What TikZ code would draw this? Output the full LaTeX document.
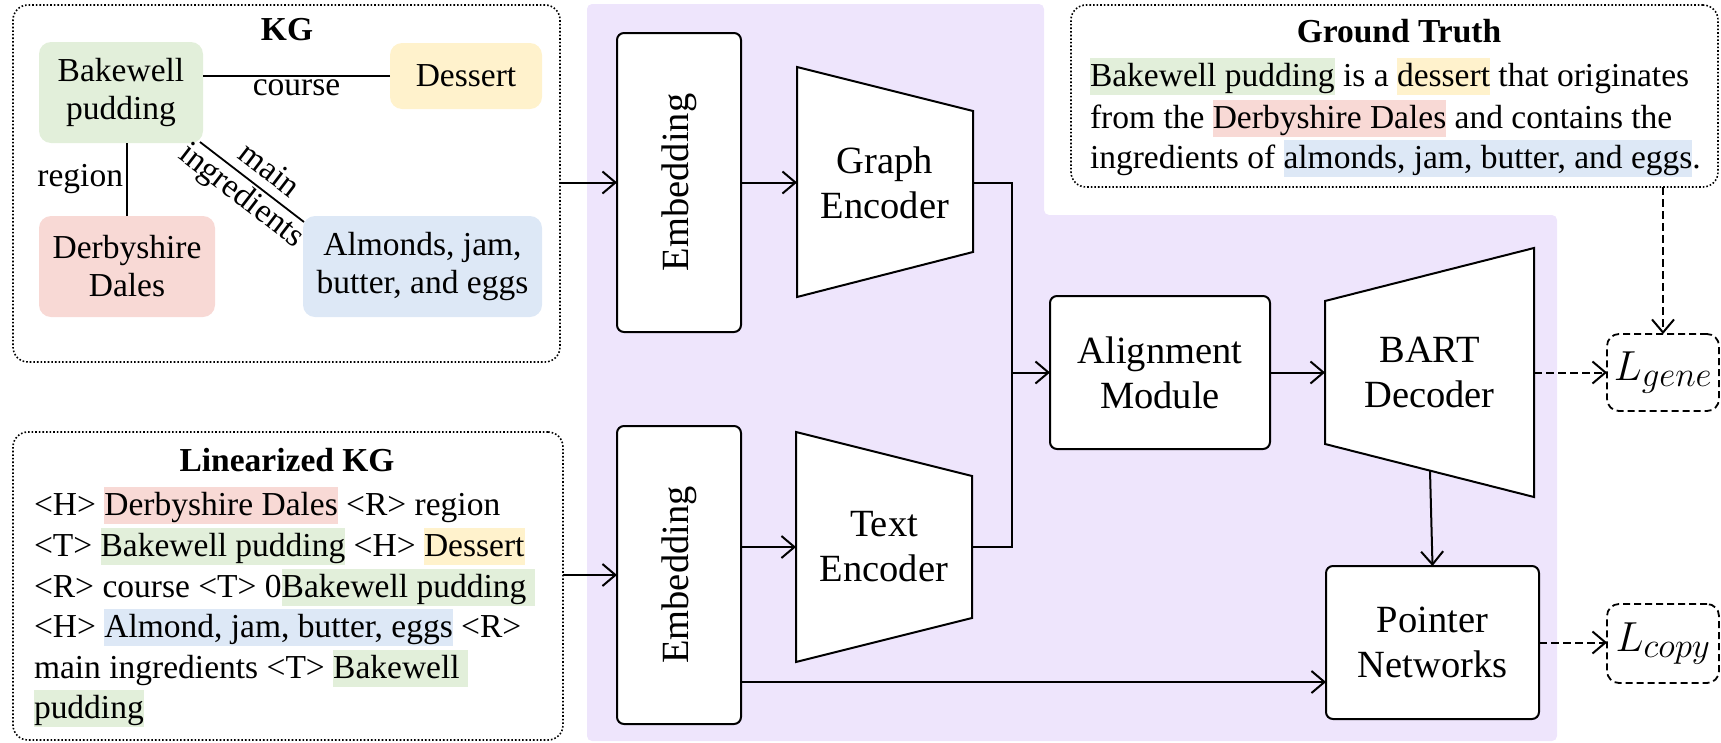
\RequirePackage{fix-cm}
\documentclass[tikz,border=0pt]{standalone}
\usepackage{fontspec}
\setmainfont{Liberation Serif}
\usetikzlibrary{arrows.meta,calc}
\DeclareMathSizes{42}{42}{35}{26}
\definecolor{hlgreen}{HTML}{E2EFDA}
\definecolor{hlyellow}{HTML}{FFF2CC}
\definecolor{hlred}{HTML}{F8D9D5}
\definecolor{hlblue}{HTML}{DDE8F6}
\definecolor{bgpurple}{HTML}{EEE5FC}
\newcommand{\hlt}[2]{{\setlength{\fboxsep}{0pt}\colorbox{#1}{\rule[-9pt]{0pt}{37pt}#2}}}
\newcommand{\bodyfont}{\fontsize{33.5}{38}\selectfont}
\newcommand{\blockfont}{\fontsize{38.5}{45}\selectfont}
\begin{document}
\begin{tikzpicture}[x=1pt,y=-1pt,
  every node/.style={inner sep=0pt, outer sep=0pt, font=\bodyfont},
  dotbox/.style={draw, dotted, line width=1.6pt, rounded corners=15pt},
  kgnode/.style={rounded corners=12pt, align=center},
  titletext/.style={font=\bfseries\bodyfont},
  line/.style={line width=2pt},
  edge/.style={line width=1.8pt},
  block/.style={draw, line width=2pt, rounded corners=7pt, fill=white, align=center, font=\blockfont},
  blocklabel/.style={align=center, font=\blockfont},
  trap/.style={draw, line width=2pt, fill=white, line join=miter},
  lossbox/.style={draw, line width=1.8pt, dash pattern=on 7pt off 4pt, rounded corners=12pt, font=\fontsize{42}{48}\selectfont},
  conn/.style={line width=2pt, -{Straight Barb[length=13pt,width=22pt,line width=2pt]}},
  dconn/.style={conn, dash pattern=on 8pt off 4pt}
]
\useasboundingbox (0,0) rectangle (1721,742);

% purple background
\fill[bgpurple, rounded corners=5pt] (587,4) -- (1044,4) -- (1044,215) -- (1557,215) -- (1557,741) -- (587,741) -- cycle;

% KG box
\node[dotbox, minimum width=547, minimum height=357] (kg) at (286.5,183.5) {};
\node[titletext] (kgtitle) at (287,30) {KG};
\node[kgnode, fill=hlgreen, minimum width=164, minimum height=101] (bp) at (121,92.5) {Bakewell\\pudding};
\node[kgnode, fill=hlyellow, minimum width=152, minimum height=66] (ds) at (466,76) {Dessert};
\node[kgnode, fill=hlred, minimum width=176, minimum height=101] (dd) at (127,266.5) {Derbyshire\\Dales};
\node[kgnode, fill=hlblue, minimum width=239, minimum height=101] (al) at (422.5,266.5) {Almonds, jam,\\butter, and eggs};
\draw[edge] (ds.west) -- (ds.west -| bp.east) node[midway, below=4pt] (lcourse) {course};
\draw[edge] (dd.north) -- (dd.north |- bp.south) node[midway, left=4pt] (lregion) {region};
\draw[edge] ([xshift=-3pt,yshift=1pt]bp.south east) -- ([xshift=1pt,yshift=-6pt]al.north west)
  node[pos=0.55, above=10pt, sloped] (lmain) {main}
  node[pos=0.5, below=3pt, sloped] (lingr) {ingredients};

% Linearized KG box
\node[dotbox, minimum width=550, minimum height=308] (lin) at (288,586) {};
\node[titletext] (lintitle) at (287,460) {Linearized KG};
\node[anchor=base west] (l1) at (34,515) {<H> \hlt{hlred}{Derbyshire Dales} <R> region};
\node[anchor=base west] (l2) at (34,556) {<T> \hlt{hlgreen}{Bakewell pudding} <H> \hlt{hlyellow}{Dessert}};
\node[anchor=base west] (l3) at (34,597) {<R> course <T> 0\hlt{hlgreen}{Bakewell pudding\ }};
\node[anchor=base west] (l4) at (34,637) {<H> \hlt{hlblue}{Almond, jam, butter, eggs} <R>};
\node[anchor=base west] (l5) at (34,678) {main ingredients <T> \hlt{hlgreen}{Bakewell\ }};
\node[anchor=base west] (l6) at (34,718) {\hlt{hlgreen}{pudding}};

% Ground truth box
\node[dotbox, minimum width=647, minimum height=182] (gt) at (1394.5,96) {};
\node[titletext] (gttitle) at (1399,31) {Ground Truth};
\node[anchor=base west] (g1) at (1090,86) {\hlt{hlgreen}{Bakewell pudding} is a \hlt{hlyellow}{dessert} that originates};
\node[anchor=base west] (g2) at (1090,128) {from the \hlt{hlred}{Derbyshire Dales} and contains the};
\node[anchor=base west] (g3) at (1090,168) {ingredients of \hlt{hlblue}{almonds, jam, butter, and eggs}.};

% Embeddings
\node[block, minimum width=124, minimum height=299] (e1) at (679,182.5) {\rotatebox{90}{Embedding}};
\node[block, minimum width=124, minimum height=298] (e2) at (679,575) {\rotatebox{90}{Embedding}};

% Encoders
\draw[trap] (797,67) -- (973,111) -- (973,252) -- (797,297) -- cycle;
\node[blocklabel, minimum width=176, minimum height=230] (ge) at (885,182.5) {Graph\\Encoder};
\draw[trap] (796,432) -- (972,476) -- (972,618) -- (796,662) -- cycle;
\node[blocklabel, minimum width=176, minimum height=230] (te) at (884,547) {Text\\Encoder};

% Alignment, BART, Pointer
\node[block, minimum width=220, minimum height=153] (am) at (1160,372.5) {Alignment\\Module};
\draw[trap] (1325,301) -- (1534,248) -- (1534,497) -- (1325,444) -- cycle;
\node[blocklabel, minimum width=209, minimum height=249] (bart) at (1429.5,372.5) {BART\\Decoder};
\coordinate (bartbot) at (1430,470.5);
\node[block, minimum width=213, minimum height=153] (pn) at (1432.5,642.5) {Pointer\\Networks};

% Losses
\node[lossbox, minimum width=112, minimum height=77] (lg) at (1663,372.5) {$L_{gene}$};
\node[lossbox, minimum width=112, minimum height=79] (lc) at (1663,643.5) {$L_{copy}$};

% Connectors
\draw[conn] (kg.east |- e1.west) -- (e1.west);
\draw[conn] (e1.east) -- (e1.east -| ge.west);
\draw[conn] (lin.east |- e2.west) -- (e2.west);
\draw[conn] (e2.east |- te.west) -- (te.west);
\coordinate (j) at (1012,372.5);
\draw[line] (ge.east) -| (j);
\draw[line] (te.east) -| (j);
\draw[conn] (j) -- (am.west);
\draw[conn] (am.east) -- (bart.west);
\draw[dconn] (bart.east) -- (lg.west);
\draw[conn] (bartbot) -- (pn.north);
\draw[conn] ([yshift=-107pt]e2.east) -- ([yshift=-107pt]e2.east -| pn.west);
\draw[dconn] (pn.east) -- (pn.east -| lc.west);
\draw[dconn] (lg.north |- gt.south) -- (lg.north);
\end{tikzpicture}
\end{document}
